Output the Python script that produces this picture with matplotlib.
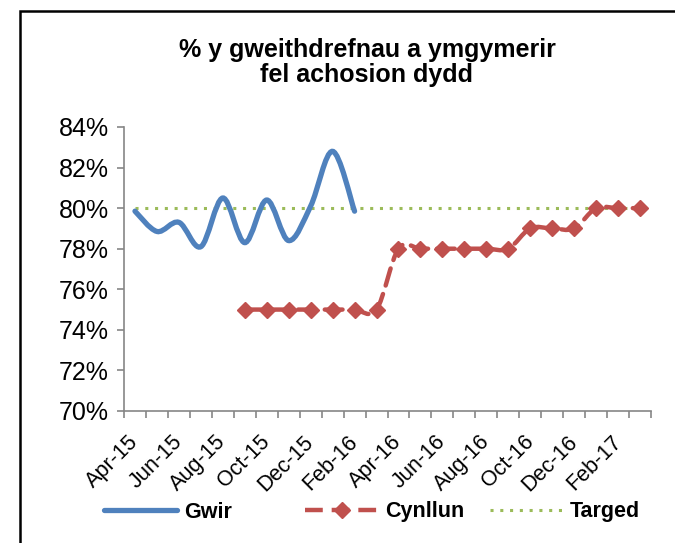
import matplotlib
matplotlib.use('Agg')
import matplotlib.pyplot as plt
import numpy as np
from matplotlib.path import Path
from matplotlib.patches import PathPatch, Rectangle
from matplotlib.lines import Line2D

plt.rcParams['font.family'] = ['Liberation Sans', 'DejaVu Sans']

# months Apr-15 .. Mar-17
months = ['Apr-15', 'May-15', 'Jun-15', 'Jul-15', 'Aug-15', 'Sep-15', 'Oct-15', 'Nov-15',
          'Dec-15', 'Jan-16', 'Feb-16', 'Mar-16', 'Apr-16', 'May-16', 'Jun-16', 'Jul-16',
          'Aug-16', 'Sep-16', 'Oct-16', 'Nov-16', 'Dec-16', 'Jan-17', 'Feb-17', 'Mar-17']

# actual (Gwir), Apr-15 .. Feb-16
gwir = [79.85, 78.85, 79.3, 78.1, 80.5, 78.3, 80.4, 78.4, 80.1, 82.8, 79.85]
# plan (Cynllun), Sep-15 .. Mar-17
cynllun = [75, 75, 75, 75, 75, 75, 75, 78, 78, 78, 78, 78, 78, 79, 79, 79, 80, 80, 80]
cynllun_start = 5
# target
targed = [80] * 24

blue = '#4F81BD'
red = '#C0504D'
green = '#9BBB59'
axcol = '#868686'


def smooth_path(xs, ys):
    # Catmull-Rom style bezier, like Excel's smoothed line
    pts = np.column_stack([xs, ys]).astype(float)
    n = len(pts)
    verts = [pts[0]]
    codes = [Path.MOVETO]
    for i in range(n - 1):
        p0 = pts[i - 1] if i > 0 else pts[i]
        p1 = pts[i]
        p2 = pts[i + 1]
        p3 = pts[i + 2] if i + 2 < n else pts[i + 1]
        c1 = p1 + (p2 - p0) / 6.0
        c2 = p2 - (p3 - p1) / 6.0
        verts += [c1, c2, p2]
        codes += [Path.CURVE4] * 3
    return Path(verts, codes)


fig = plt.figure(figsize=(6.75, 5.43), dpi=100)
ax = fig.add_axes([124 / 675, 1 - 411 / 543, (651 - 124) / 675, (411 - 127) / 543])

x_all = np.arange(len(months))
x_gwir = x_all[:len(gwir)]
x_cyn = x_all[cynllun_start:cynllun_start + len(cynllun)]

ax.plot(x_all, targed, color=green, linewidth=2.2, linestyle=(0, (1, 2.2)), zorder=2)

ax.add_patch(PathPatch(smooth_path(x_cyn, cynllun), fill=False, edgecolor=red,
                       linewidth=3.2, linestyle=(0, (4, 2)), capstyle='round', zorder=3))
ax.plot(x_cyn, cynllun, linestyle='none', marker='D', markersize=8.5, color=red, zorder=4)

ax.add_patch(PathPatch(smooth_path(x_gwir, gwir), fill=False, edgecolor=blue,
                       linewidth=3.8, capstyle='round', zorder=5))

ax.set_xlim(-0.5, len(months) - 0.5)
ax.set_ylim(70, 84)
ax.set_yticks(np.arange(70, 85, 2))
ax.set_yticklabels(['%d%%' % v for v in np.arange(70, 85, 2)], fontsize=18)

ax.set_xticks(np.arange(-0.5, len(months), 1))
ax.set_xticklabels([])
ax.set_xticks(x_all[::2], minor=True)
ax.set_xticklabels(months[::2], minor=True, rotation=45, ha='right', va='center',
                   rotation_mode='anchor', fontsize=15.5)
ax.tick_params(axis='x', which='minor', length=0, pad=20)
ax.tick_params(axis='x', which='major', length=5, color=axcol, width=1.2)
ax.tick_params(axis='y', length=5, color=axcol, width=1.2, pad=6)

for s in ['top', 'right']:
    ax.spines[s].set_visible(False)
for s in ['left', 'bottom']:
    ax.spines[s].set_color(axcol)
    ax.spines[s].set_linewidth(1.2)

fig.text(367 / 675, 1 - 50 / 543, '% y gweithdrefnau a ymgymerir', ha='center', va='center',
         fontsize=18, fontweight='bold')
fig.text(367 / 675, 1 - 75 / 543, 'fel achosion dydd', ha='center', va='center',
         fontsize=18, fontweight='bold')

# legend: one entry per box, placed like Excel's fixed-width legend slots
handles = [Line2D([], [], color=blue, linewidth=3.8, solid_capstyle='round'),
           Line2D([], [], color=red, linewidth=3.2, linestyle=(0, (4, 2)), marker='D', markersize=8.5),
           Line2D([], [], color=green, linewidth=2.2, linestyle=(0, (1, 2.2)))]
names = ['Gwir', 'Cynllun', 'Targed']
slots = [104, 305, 490]
for h, name, sx in zip(handles, names, slots):
    fig.legend([h], [name], loc='center left', bbox_to_anchor=(sx / 675, 1 - 512 / 543),
               frameon=False, prop={'size': 15.5, 'weight': 'bold'}, handlelength=3.4,
               handletextpad=0.3, borderpad=0, borderaxespad=0)

fig.add_artist(Rectangle((20 / 675, -0.1), 1.2, 1 - 11 / 543 + 0.1, transform=fig.transFigure,
                         fill=False, edgecolor='black', linewidth=1.8))

fig.savefig('out.png', dpi=100)
